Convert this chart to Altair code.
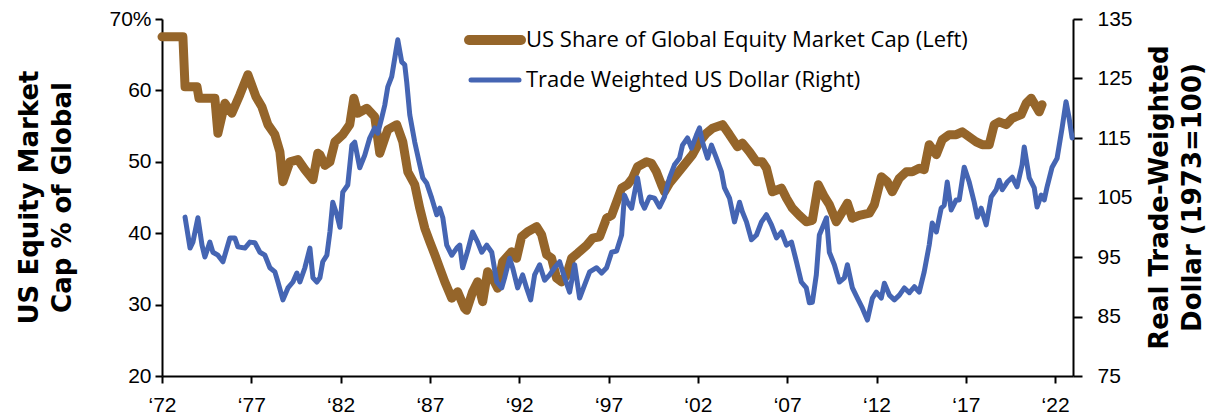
import altair as alt
import pandas as pd

# ---------------- data ----------------
share_year = [1972.00, 1973.17, 1973.29, 1973.96, 1974.07, 1974.96, 1975.13, 1975.52, 1975.91, 1976.36,
              1976.81, 1977.26, 1977.59, 1977.93, 1978.32, 1978.60, 1978.77, 1979.16, 1979.61, 1980.00,
              1980.45, 1980.72, 1980.84, 1981.12, 1981.40, 1981.68, 1982.12, 1982.51, 1982.74, 1982.96,
              1983.47, 1983.91, 1984.19, 1984.64, 1985.14, 1985.48, 1985.76, 1986.15, 1986.43, 1986.71,
              1986.99, 1987.27, 1987.55, 1987.83, 1988.22, 1988.55, 1988.94, 1989.05, 1989.39, 1989.67,
              1989.95, 1990.23, 1990.51, 1990.79, 1991.07, 1991.57, 1991.85, 1992.13, 1992.47, 1992.97,
              1993.25, 1993.53, 1993.81, 1994.09, 1994.37, 1994.65, 1994.93, 1995.27, 1995.77, 1996.11,
              1996.50, 1996.89, 1997.17, 1997.45, 1997.73, 1998.06, 1998.34, 1998.62, 1999.13, 1999.40,
              1999.68, 1999.96, 2000.13, 2000.41, 2000.80, 2001.25, 2001.70, 2002.09, 2002.48, 2002.82,
              2003.38, 2003.77, 2004.22, 2004.49, 2004.89, 2005.28, 2005.61, 2005.84, 2006.17, 2006.68,
              2006.96, 2007.29, 2007.68, 2008.07, 2008.41, 2008.74, 2009.08, 2009.36, 2009.75, 2010.09,
              2010.37, 2010.65, 2011.04, 2011.60, 2011.88, 2012.27, 2012.60, 2012.88, 2013.28, 2013.67,
              2014.00, 2014.39, 2014.67, 2014.95, 2015.35, 2015.68, 2016.07, 2016.46, 2016.80, 2017.19,
              2017.58, 2017.92, 2018.31, 2018.59, 2018.87, 2019.26, 2019.60, 2020.10, 2020.38, 2020.66,
              2020.94, 2021.11, 2021.27]
share_pct = [67.5, 67.5, 60.5, 60.5, 58.9, 58.9, 54.0, 58.2, 56.8, 59.4,
             62.2, 59.1, 57.7, 55.2, 53.8, 51.4, 47.2, 50.0, 50.3, 48.9,
             47.5, 51.2, 51.0, 49.5, 50.0, 52.8, 53.8, 55.2, 58.9, 56.8,
             57.5, 56.3, 51.2, 54.5, 55.2, 52.8, 48.6, 46.8, 43.5, 40.7,
             38.8, 37.0, 35.1, 33.2, 30.9, 31.8, 29.5, 29.2, 31.8, 33.2,
             30.4, 34.6, 33.7, 32.3, 36.0, 37.4, 36.5, 39.5, 40.2, 40.9,
             39.8, 37.0, 36.5, 33.7, 33.2, 34.1, 36.5, 37.2, 38.3, 39.3,
             39.5, 42.1, 42.5, 44.4, 46.3, 46.8, 47.7, 49.3, 50.0, 49.8,
             48.6, 46.8, 45.8, 47.0, 48.2, 49.6, 51.0, 52.8, 54.0, 54.7,
             55.2, 53.8, 52.1, 52.6, 51.4, 50.0, 50.0, 49.1, 45.8, 46.3,
             44.9, 43.5, 42.5, 41.6, 41.8, 46.8, 45.1, 44.0, 41.6, 43.0,
             44.2, 42.1, 42.5, 42.8, 44.0, 47.9, 47.2, 45.8, 47.7, 48.6,
             48.6, 49.1, 48.9, 52.4, 51.0, 53.1, 53.8, 53.8, 54.2, 53.5,
             52.8, 52.4, 52.4, 55.2, 55.6, 55.2, 56.1, 56.6, 58.2, 58.9,
             57.7, 57.0, 58.0]

usd_year = [1973.29, 1973.57, 1973.73, 1974.01, 1974.24, 1974.40, 1974.68, 1974.85, 1975.13, 1975.41,
            1975.80, 1976.08, 1976.25, 1976.64, 1976.92, 1977.20, 1977.48, 1977.76, 1978.04, 1978.32,
            1978.49, 1978.77, 1979.05, 1979.33, 1979.55, 1979.72, 1980.00, 1980.28, 1980.45, 1980.67,
            1980.84, 1981.00, 1981.23, 1981.40, 1981.56, 1981.79, 1981.96, 1982.12, 1982.40, 1982.63,
            1982.79, 1983.07, 1983.35, 1983.63, 1983.91, 1984.08, 1984.30, 1984.47, 1984.64, 1984.86,
            1985.09, 1985.20, 1985.42, 1985.59, 1985.70, 1985.87, 1986.15, 1986.43, 1986.60, 1986.82,
            1987.10, 1987.38, 1987.55, 1987.72, 1987.94, 1988.22, 1988.50, 1988.67, 1988.83, 1989.11,
            1989.39, 1989.67, 1989.90, 1990.18, 1990.46, 1990.74, 1991.02, 1991.18, 1991.46, 1991.63,
            1991.91, 1992.19, 1992.41, 1992.64, 1992.86, 1993.14, 1993.42, 1993.70, 1993.98, 1994.26,
            1994.54, 1994.82, 1995.10, 1995.38, 1995.66, 1995.94, 1996.33, 1996.61, 1996.89, 1997.17,
            1997.45, 1997.73, 1997.89, 1998.06, 1998.29, 1998.46, 1998.62, 1998.85, 1999.01, 1999.29,
            1999.57, 1999.85, 2000.13, 2000.41, 2000.69, 2000.97, 2001.14, 2001.42, 2001.64, 2001.92,
            2002.09, 2002.26, 2002.54, 2002.76, 2003.04, 2003.32, 2003.49, 2003.77, 2004.05, 2004.33,
            2004.49, 2004.72, 2005.00, 2005.28, 2005.56, 2005.84, 2006.12, 2006.40, 2006.68, 2006.96,
            2007.24, 2007.52, 2007.79, 2008.07, 2008.24, 2008.41, 2008.63, 2008.80, 2008.97, 2009.20,
            2009.36, 2009.64, 2009.92, 2010.20, 2010.37, 2010.65, 2010.93, 2011.21, 2011.49, 2011.77,
            2011.99, 2012.27, 2012.44, 2012.72, 2013.00, 2013.28, 2013.56, 2013.84, 2014.12, 2014.39,
            2014.67, 2014.95, 2015.12, 2015.35, 2015.62, 2015.79, 2015.96, 2016.18, 2016.46, 2016.63,
            2016.91, 2017.19, 2017.47, 2017.64, 2017.86, 2018.14, 2018.42, 2018.70, 2018.87, 2019.04,
            2019.32, 2019.60, 2019.87, 2020.15, 2020.27, 2020.55, 2020.83, 2020.99, 2021.22, 2021.39,
            2021.55, 2021.83, 2022.11, 2022.39, 2022.61, 2022.78, 2022.95]
usd_index = [101.7, 96.5, 97.5, 101.6, 97.0, 95.0, 97.5, 95.8, 95.3, 94.2,
             98.2, 98.2, 96.7, 96.5, 97.5, 97.4, 95.8, 95.3, 93.2, 92.5,
             90.8, 87.8, 89.8, 90.8, 92.3, 90.8, 93.2, 96.5, 91.5, 90.8,
             91.5, 94.2, 95.3, 99.2, 104.2, 102.1, 100.0, 105.9, 107.1, 113.8,
             114.3, 110.0, 112.1, 115.0, 116.7, 115.8, 118.4, 120.5, 123.6, 125.3,
             129.5, 131.5, 127.8, 127.3, 124.4, 118.9, 114.3, 110.5, 108.3, 107.4,
             104.9, 102.1, 103.2, 101.6, 97.0, 95.3, 96.5, 97.0, 93.2, 96.0,
             99.2, 97.5, 95.8, 97.0, 95.8, 90.8, 89.8, 91.5, 94.8, 93.2,
             89.8, 92.0, 89.8, 87.8, 92.0, 93.7, 91.1, 92.0, 93.2, 94.2,
             91.5, 89.1, 93.7, 88.1, 90.3, 92.5, 93.2, 92.3, 93.2, 95.8,
             96.0, 98.7, 105.4, 104.2, 103.2, 105.9, 108.3, 104.2, 103.2, 105.1,
             104.9, 103.4, 105.1, 108.3, 110.5, 111.6, 113.8, 115.0, 113.3, 115.5,
             116.7, 114.3, 111.6, 113.8, 111.6, 109.3, 106.6, 104.9, 100.9, 104.2,
             102.6, 100.9, 97.9, 98.7, 100.9, 102.1, 100.4, 98.2, 99.2, 97.0,
             97.5, 94.2, 90.8, 89.8, 87.3, 87.4, 92.0, 98.7, 99.9, 101.6,
             95.8, 93.7, 90.8, 91.5, 93.7, 89.8, 88.1, 86.4, 84.4, 88.1,
             89.1, 88.1, 90.6, 88.6, 87.8, 88.6, 89.8, 89.0, 90.0, 89.1,
             92.5, 97.0, 100.7, 99.2, 103.2, 103.7, 107.6, 102.9, 104.6, 104.6,
             110.1, 107.6, 104.2, 101.7, 103.2, 100.4, 105.1, 106.3, 107.9, 106.3,
             107.6, 108.4, 106.8, 110.5, 113.5, 108.3, 106.6, 103.4, 105.4, 104.6,
             106.8, 110.1, 111.6, 116.7, 121.1, 118.4, 115.0]

x_ticks = [1972, 1977, 1982, 1987, 1992, 1997, 2002, 2007, 2012, 2017, 2022]
x_labels = ["‘72", "‘77", "‘82", "‘87", "‘92", "‘97", "‘02", "‘07", "‘12", "‘17", "‘22"]
left_ticks = [20, 30, 40, 50, 60, 70]
right_ticks = [75, 85, 95, 105, 115, 125, 135]
legend_labels = ["US Share of Global Equity Market Cap (Left)", "Trade Weighted US Dollar (Right)"]
left_title = ["US Equity Market", "Cap % of Global"]
right_title = ["Real Trade-Weighted", "Dollar (1973=100)"]

BROWN = "#95652A"
BLUE = "#4565B3"
TICK_FONT = "Liberation Sans"
TITLE_FONT = "DejaVu Sans"
LEGEND_FONT = "Open Sans"

share_df = pd.DataFrame({"year": share_year, "share": share_pct})
usd_df = pd.DataFrame({"year": usd_year, "usd": usd_index})

x_label_expr = " : ".join(f"datum.value == {t} ? '{l}'" for t, l in zip(x_ticks, x_labels)) + " : ''"

x_enc = alt.X(
    "year:Q",
    scale=alt.Scale(domain=[1972, 2023], nice=False, zero=False),
    axis=alt.Axis(values=x_ticks, labelExpr=x_label_expr, title=None,
                  tickSize=7, labelPadding=11, labelFlush=False, labelOverlap=False),
)

share_line = alt.Chart(share_df).mark_line(
    color=BROWN, strokeWidth=9, strokeCap="round", strokeJoin="round"
).encode(
    x=x_enc,
    y=alt.Y(
        "share:Q",
        scale=alt.Scale(domain=[20, 70], nice=False, zero=False),
        axis=alt.Axis(orient="left", values=left_ticks,
                      labelExpr="datum.value == 70 ? '70%' : datum.label",
                      title=left_title, titleAngle=270, titleBaseline="top",
                      titleAlign="center", titleX=-146, titleY=178,
                      titleFont=TITLE_FONT, titleFontWeight="bold", titleFontSize=26,
                      titleLineHeight=33,
                      tickSize=7, labelPadding=4),
    ),
)

usd_line = alt.Chart(usd_df).mark_line(
    color=BLUE, strokeWidth=5, strokeCap="round", strokeJoin="round"
).encode(
    x=x_enc,
    y=alt.Y(
        "usd:Q",
        scale=alt.Scale(domain=[75, 135], nice=False, zero=False),
        axis=alt.Axis(orient="right", values=right_ticks,
                      title=right_title, titleAngle=270, titleBaseline="top",
                      titleAlign="center", titleX=73, titleY=178,
                      titleFont=TITLE_FONT, titleFontWeight="bold", titleFontSize=26,
                      titleLineHeight=33,
                      tickSize=9, labelPadding=15),
    ),
)

leg1 = pd.DataFrame({"label": [legend_labels[0]]})
leg2 = pd.DataFrame({"label": [legend_labels[1]]})

leg_rule1 = alt.Chart(leg1).mark_rule(color=BROWN, strokeWidth=10, strokeCap="round").encode(
    x=alt.value(307), x2=alt.value(359), y=alt.value(21))
leg_rule2 = alt.Chart(leg2).mark_rule(color=BLUE, strokeWidth=5, strokeCap="round").encode(
    x=alt.value(309), x2=alt.value(357), y=alt.value(61))
leg_text1 = alt.Chart(leg1).mark_text(align="left", baseline="middle", font=LEGEND_FONT,
                                      fontSize=22, color="black").encode(
    x=alt.value(364), y=alt.value(21), text="label:N")
leg_text2 = alt.Chart(leg2).mark_text(align="left", baseline="middle", font=LEGEND_FONT,
                                      fontSize=22, color="black").encode(
    x=alt.value(364), y=alt.value(61), text="label:N")

chart = alt.layer(
    share_line, usd_line, leg_rule1, leg_rule2, leg_text1, leg_text2
).resolve_scale(
    y="independent"
).properties(
    width=911, height=357,
    autosize=alt.AutoSizeParams(type="none"),
    padding={"left": 154, "top": 11, "right": 137, "bottom": 38},
).configure_view(
    stroke=None
).configure_axis(
    grid=False, domainColor="black", domainWidth=2, tickColor="black", tickWidth=2,
    labelColor="black", titleColor="black", labelFont=TICK_FONT, labelFontSize=21,
)

chart.save("out.html", embed_options={"renderer": "svg", "actions": False})
